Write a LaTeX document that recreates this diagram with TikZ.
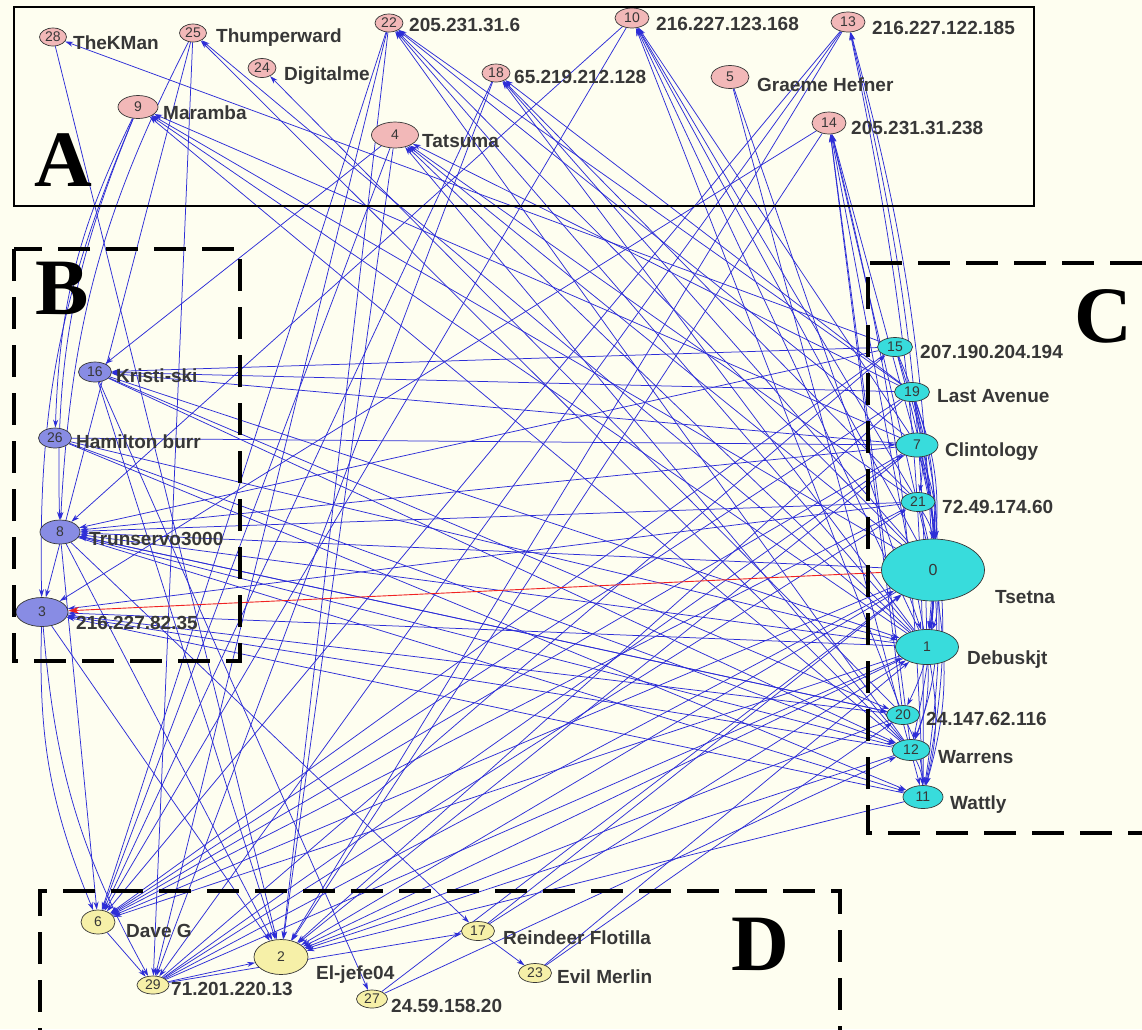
\documentclass[tikz,border=0pt]{standalone}
\usepackage{fontspec}
\setmainfont{Liberation Sans}
\newfontfamily\bigserif{Liberation Serif}
\usetikzlibrary{arrows.meta,shapes.geometric}
\pgfdeclarelayer{paperlayer}
\pgfdeclarelayer{linklayer}
\pgfsetlayers{paperlayer,linklayer,main}

\definecolor{paper}{RGB}{254,254,240}
\definecolor{edgeblue}{RGB}{45,45,215}
\definecolor{grpA}{RGB}{242,184,184}
\definecolor{grpB}{RGB}{136,140,228}
\definecolor{grpC}{RGB}{56,220,220}
\definecolor{grpD}{RGB}{246,240,168}
\definecolor{ink}{RGB}{55,55,55}
\definecolor{hot}{RGB}{240,35,35}

\begin{document}
\begin{tikzpicture}[x=1pt,y=-1pt,
  vtx/.style={ellipse,draw=ink,line width=0.7pt,inner sep=0pt,text=ink,
              font=\fontsize{14}{14}\selectfont},
  sz/.style 2 args={minimum width=#1,minimum height=#2},
  ga/.style={vtx,fill=grpA},
  gb/.style={vtx,fill=grpB},
  gc/.style={vtx,fill=grpC},
  gd/.style={vtx,fill=grpD},
  lbl/.style={anchor=west,inner sep=0pt,text=ink,
              font=\bfseries\fontsize{19}{19}\selectfont},
  link/.style={draw=edgeblue,line width=0.75pt,-{Stealth[length=8pt,width=5pt]}},
  hotlink/.style={draw=hot,line width=0.9pt,-{Stealth[length=11pt,width=7pt]}},
  grouptag/.style={inner sep=0pt,text=black,
              font=\bigserif\bfseries\fontsize{80}{80}\selectfont},
  zone/.style={draw=black,line width=4pt,dash pattern=on 32pt off 16pt},
]
\useasboundingbox (0,0) rectangle (1142,1029);
\clip (0,0) rectangle (1142,1029);
\begin{pgfonlayer}{paperlayer}
  \fill[paper] (0,0) rectangle (1142,1029);
\end{pgfonlayer}

% ---- group A (top) ----
\node[ga,sz={27}{18}] (n28) at (53,37)  {28};
\node[ga,sz={27}{18}] (n25) at (193,33) {25};
\node[ga,sz={28}{19}] (n24) at (262,68) {24};
\node[ga,sz={28}{18}] (n22) at (389,23) {22};
\node[ga,sz={28}{18}] (n18) at (496,73) {18};
\node[ga,sz={34}{20}] (n10) at (632,18) {10};
\node[ga,sz={34}{20}] (n13) at (848,22) {13};
\node[ga,sz={38}{23}] (n5)  at (730,77) {5};
\node[ga,sz={34}{22}] (n14) at (829,123){14};
\node[ga,sz={40}{23}] (n9)  at (138,107){9};
\node[ga,sz={47}{26}] (n4)  at (395,135){4};

% ---- group B (left) ----
\node[gb,sz={33}{20}] (n16) at (95,372) {16};
\node[gb,sz={33}{20}] (n26) at (55,438) {26};
\node[gb,sz={40}{24}] (n8)  at (60,532) {8};
\node[gb,sz={52}{29}] (n3)  at (42,612) {3};

% ---- group C (right) ----
\node[gc,sz={35}{19}] (n15) at (895,347) {15};
\node[gc,sz={35}{19}] (n19) at (912,392) {19};
\node[gc,sz={42}{24}] (n7)  at (917,445) {7};
\node[gc,sz={34}{19}] (n21) at (918,502) {21};
\node[gc,sz={103}{62},font=\fontsize{16}{16}\selectfont] (n0) at (933,570) {0};
\node[gc,sz={63}{35}] (n1)  at (927,647) {1};
\node[gc,sz={33}{19}] (n20) at (903,715) {20};
\node[gc,sz={38}{21}] (n12) at (911,750) {12};
\node[gc,sz={40}{23}] (n11) at (923,797) {11};

% ---- group D (bottom) ----
\node[gd,sz={34}{24}] (n6)  at (98,922)  {6};
\node[gd,sz={54}{35}] (n2)  at (281,957) {2};
\node[gd,sz={32}{18}] (n29) at (153,985) {29};
\node[gd,sz={31}{18}] (n27) at (372,999) {27};
\node[gd,sz={33}{19}] (n17) at (478,931) {17};
\node[gd,sz={33}{19}] (n23) at (535,973) {23};

% ---- vertex names ----
\node[lbl] (t28) at (73,43)   {TheKMan};
\node[lbl] (t25) at (216,38)  {Thumperward};
\node[lbl] (t24) at (284,76)  {Digitalme};
\node[lbl] (t22) at (409,25)  {205.231.31.6};
\node[lbl] (t18) at (514,77)  {65.219.212.128};
\node[lbl] (t10) at (656,24)  {216.227.123.168};
\node[lbl] (t13) at (872,28)  {216.227.122.185};
\node[lbl] (t5)  at (757,85)  {Graeme Hefner};
\node[lbl] (t14) at (851,128) {205.231.31.238};
\node[lbl] (t9)  at (163,113) {Maramba};
\node[lbl] (t4)  at (422,141) {Tatsuma};
\node[lbl] (t16) at (116,376) {Kristi-ski};
\node[lbl] (t26) at (76,442)  {Hamilton burr};
\node[lbl] (t8)  at (89,539)  {Trunservo3000};
\node[lbl] (t3)  at (76,623)  {216.227.82.35};
\node[lbl] (t15) at (920,352) {207.190.204.194};
\node[lbl] (t19) at (937,396) {Last Avenue};
\node[lbl] (t7)  at (945,452) {Clintology};
\node[lbl] (t21) at (942,507) {72.49.174.60};
\node[lbl] (t0)  at (995,597) {Tsetna};
\node[lbl] (t1)  at (967,660) {Debuskjt};
\node[lbl] (t20) at (926,719) {24.147.62.116};
\node[lbl] (t12) at (938,757) {Warrens};
\node[lbl] (t11) at (950,805) {Wattly};
\node[lbl] (t6)  at (126,931) {Dave G};
\node[lbl] (t2)  at (316,975) {El-jefe04};
\node[lbl] (t29) at (171,989) {71.201.220.13};
\node[lbl] (t27) at (391,1006){24.59.158.20};
\node[lbl] (t17) at (503,938) {Reindeer Flotilla};
\node[lbl] (t23) at (557,977) {Evil Merlin};

% ---- group frames and tags ----
\draw[line width=1.2pt] (14,7) rectangle (1034,206);
\draw[zone] (14,249) rectangle (240,661);
\draw[zone] (1160,833) -- (868,833) -- (868,263) -- (1160,263);
\draw[zone] (40,1060) -- (40,891) -- (840,891) -- (840,1060);
\node[grouptag] (tagA) at (63,160)  {A};
\node[grouptag] (tagB) at (62,288)  {B};
\node[grouptag] (tagC) at (1103,316){C};
\node[grouptag] (tagD) at (760,944) {D};

% ---- links ----
\begin{pgfonlayer}{linklayer}
\foreach \a/\b in {
  0/22, 1/22, 7/22, 19/22, 12/22,
  0/10, 1/10, 7/10, 21/10, 20/10,
  0/18, 1/18, 19/18, 21/18,
  0/14, 1/14, 7/14, 12/14, 20/14,
  0/9, 1/9, 7/9, 12/9,
  0/4, 1/4, 19/4, 12/4, 21/4,
  20/24, 1/25, 12/25, 15/28,
  28/2, 25/29, 25/3, 22/6, 22/2, 22/29, 18/6, 18/29,
  10/8, 10/6, 13/6, 13/2, 13/29, 5/1, 5/11, 14/3, 14/2,
  4/16, 4/6, 4/2,
  15/16, 19/16, 7/16, 26/7,
  0/8, 1/8, 21/8, 7/8, 15/8, 20/8, 12/8,
  1/3, 20/3, 12/3, 11/3, 21/3,
  16/20, 16/12, 16/1, 26/12, 26/11, 26/1, 8/11, 8/20,
  8/17, 16/27, 3/2, 8/2, 8/6, 16/2,
  0/6, 1/6, 7/6, 15/6, 21/6, 19/6,
  0/2, 1/2, 19/2, 20/2, 12/2, 11/2, 7/2,
  29/0, 29/1, 29/7, 29/15, 29/21, 6/29, 29/2, 29/17,
  17/0, 17/1, 23/1, 23/20, 17/23, 27/12, 27/0}
  \draw[link] (n\a) -- (n\b);
% links running down the right-hand column
\foreach \a/\b in {15/0, 19/0, 7/0, 21/0, 15/1, 19/1, 7/1, 21/1, 0/1,
  0/20, 0/12, 0/11, 1/11, 1/12, 20/11, 12/11, 19/12, 7/11, 15/11, 19/21}
  \draw[link] (n\a) to[bend left=12] (n\b);
% long arcs up to the top-right addresses
\foreach \a/\b in {0/13, 1/13, 11/13, 11/14}
  \draw[link] (n\a) to[bend right=6] (n\b);
% arcs down the left margin
\foreach \a/\b in {9/26, 9/8, 9/3, 25/8, 3/6, 3/29}
  \draw[link] (n\a) to[bend right=12] (n\b);
\draw[hotlink] (n0) -- (n3);
\end{pgfonlayer}
\end{tikzpicture}
\end{document}
